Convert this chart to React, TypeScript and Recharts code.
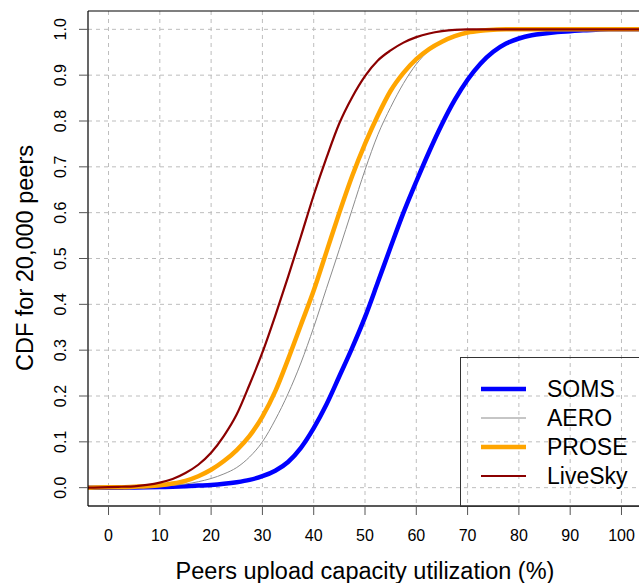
import React from 'react';
import { LineChart, Line, XAxis, YAxis, CartesianGrid, ReferenceLine, Legend } from 'recharts';

// utilization (%) sample points
const utilization = [
  -4, 0, 2.5, 5, 7.5, 10, 12.5, 15, 17.5, 20, 22.5, 25, 27.5, 30, 32.5, 35, 37.5, 40, 42.5, 45,
  47.5, 50, 52.5, 55, 57.5, 60, 62.5, 65, 67.5, 70, 72.5, 75, 77.5, 80, 82.5, 85, 87.5, 90, 92.5,
  95, 97.5, 100, 104,
];

const soms = [
  0, 0, 0, 0.0005, 0.001, 0.0015, 0.002, 0.003, 0.0045, 0.006, 0.0085, 0.012, 0.017, 0.025, 0.037,
  0.056, 0.087, 0.13, 0.182, 0.243, 0.305, 0.372, 0.448, 0.525, 0.6, 0.668, 0.733, 0.793, 0.846,
  0.89, 0.925, 0.951, 0.969, 0.98, 0.987, 0.991, 0.994, 0.996, 0.998, 0.999, 1, 1, 1,
];

const aero = [
  0, 0, 0.0005, 0.001, 0.002, 0.003, 0.005, 0.008, 0.013, 0.02, 0.03, 0.044, 0.067, 0.1, 0.148,
  0.205, 0.272, 0.35, 0.435, 0.52, 0.607, 0.693, 0.77, 0.83, 0.882, 0.924, 0.954, 0.973, 0.985,
  0.992, 0.996, 0.998, 0.999, 1, 1, 1, 1, 1, 1, 1, 1, 1, 1,
];

const prose = [
  0, 0.001, 0.001, 0.002, 0.003, 0.005, 0.009, 0.015, 0.025, 0.039, 0.058, 0.082, 0.113, 0.155, 0.21,
  0.28, 0.355, 0.43, 0.515, 0.6, 0.68, 0.75, 0.812, 0.866, 0.905, 0.935, 0.957, 0.973, 0.985,
  0.993, 0.997, 0.999, 1, 1, 1, 1, 1, 1, 1, 1, 1, 1, 1,
];

const livesky = [
  0, 0.001, 0.002, 0.003, 0.006, 0.011, 0.019, 0.032, 0.05, 0.076, 0.113, 0.16, 0.225, 0.295, 0.375,
  0.46, 0.548, 0.638, 0.72, 0.795, 0.852, 0.898, 0.932, 0.954, 0.971, 0.983, 0.991, 0.996, 0.999,
  1, 1, 1, 1, 1, 1, 1, 1, 1, 1, 1, 1, 1, 1,
];

const xTicks = [0, 10, 20, 30, 40, 50, 60, 70, 80, 90, 100];
const yTicks = [0, 0.1, 0.2, 0.3, 0.4, 0.5, 0.6, 0.7, 0.8, 0.9, 1.0];

const seriesInfo = [
  { key: 'soms', name: 'SOMS', color: '#0000FF', width: 4.5 },
  { key: 'aero', name: 'AERO', color: '#8c8c8c', width: 1 },
  { key: 'prose', name: 'PROSE', color: '#FFA500', width: 4.5 },
  { key: 'livesky', name: 'LiveSky', color: '#8B0000', width: 2.2 },
];

const data = utilization.map((u, i) => ({
  u,
  soms: soms[i],
  aero: aero[i],
  prose: prose[i],
  livesky: livesky[i],
}));

const FONT = '"Liberation Sans", Arial, Helvetica, sans-serif';

const XTick = (props: any) => {
  const { x, payload } = props;
  return (
    <text x={x} y={541} textAnchor="middle" fontSize={16} fontFamily={FONT} fill="#000">
      {payload.value}
    </text>
  );
};

const YTick = (props: any) => {
  const { y, payload } = props;
  return (
    <text
      x={66}
      y={y}
      transform={`rotate(-90, 66, ${y})`}
      textAnchor="middle"
      fontSize={16}
      fontFamily={FONT}
      fill="#000"
    >
      {Number(payload.value).toFixed(1)}
    </text>
  );
};

const LegendBox = () => (
  <svg width={190} height={150} style={{ display: 'block', overflow: 'visible' }}>
    <rect x={0.5} y={0.5} width={200} height={149} fill="none" stroke="#333" strokeWidth={1} />
    {seriesInfo.map((s, i) => {
      const cy = 32 + i * 29;
      return (
        <g key={s.key}>
          <line x1={21} x2={66} y1={cy} y2={cy} stroke={s.color} strokeWidth={s.width} />
          <text x={87} y={cy + 8} fontSize={23} fontFamily={FONT} fill="#000">
            {s.name}
          </text>
        </g>
      );
    })}
  </svg>
);

export default function App() {
  return (
    <div style={{ position: 'fixed', left: 0, top: 0, width: 639, height: 583, overflow: 'hidden', background: '#fff' }}>
      <LineChart width={660} height={583} data={data} margin={{ top: 11, right: 18, bottom: 0, left: 0 }}>
        <CartesianGrid
          stroke="#bdbdbd"
          strokeDasharray="4 4"
          horizontalValues={yTicks}
          verticalValues={xTicks}
        />
        <XAxis
          dataKey="u"
          type="number"
          domain={[-4, 104]}
          ticks={xTicks}
          allowDataOverflow
          height={77}
          axisLine={{ stroke: '#222', strokeWidth: 1.5 }}
          tickLine={{ stroke: '#555' }}
          tickSize={9}
          tick={<XTick />}
          interval={0}
        />
        <YAxis
          type="number"
          domain={[-0.04, 1.04]}
          ticks={yTicks}
          allowDataOverflow
          width={88}
          axisLine={{ stroke: '#000', strokeWidth: 1.2 }}
          tickLine={{ stroke: '#555' }}
          tickSize={9}
          tick={<YTick />}
          interval={0}
        />
        <ReferenceLine y={1.04} stroke="#000" strokeWidth={1.2} />
        {seriesInfo.map((s) => (
          <Line
            key={s.key}
            type="monotone"
            dataKey={s.key}
            name={s.name}
            stroke={s.color}
            strokeWidth={s.width}
            dot={false}
            activeDot={false}
            isAnimationActive={false}
          />
        ))}
        <Legend
          layout="horizontal"
          verticalAlign="middle"
          align="center"
          content={<LegendBox />}
          wrapperStyle={{ position: 'absolute', left: 460, top: 357, width: 190, height: 150 }}
        />
        <text
          x={365}
          y={579}
          textAnchor="middle"
          fontSize={23.5}
          fontFamily={FONT}
          fill="#000"
        >
          Peers upload capacity utilization (%)
        </text>
        <text
          x={33}
          y={258}
          transform="rotate(-90, 33, 258)"
          textAnchor="middle"
          fontSize={23.5}
          fontFamily={FONT}
          fill="#000"
        >
          CDF for 20,000 peers
        </text>
      </LineChart>
    </div>
  );
}
